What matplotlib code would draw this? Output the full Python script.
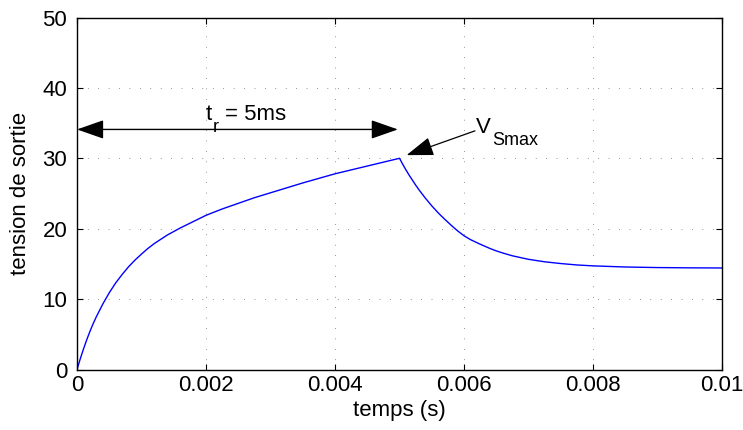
import matplotlib
matplotlib.use("Agg")
import matplotlib.pyplot as plt

# courbe (temps en ms, tension en V)
t_ms = [0, 0.05, 0.1, 0.15, 0.2, 0.25, 0.3, 0.35, 0.4, 0.45, 0.5, 0.6, 0.7,
        0.8, 0.9, 1.0, 1.1, 1.2, 1.3, 1.4, 1.5, 1.6, 1.8, 2.0, 2.25, 2.5,
        2.75, 3.0, 3.5, 4.0, 4.5, 5.0,
        5.05, 5.1, 5.15, 5.2, 5.25, 5.3, 5.35, 5.4, 5.45, 5.5, 5.55, 5.6,
        5.7, 5.8, 5.9, 6.0, 6.1, 6.25, 6.4, 6.5, 6.6, 6.75, 6.9, 7.0, 7.25,
        7.5, 7.75, 8.0, 8.5, 9.0, 9.5, 10.0]
v_sortie = [0, 1.5, 2.9, 4.2, 5.4, 6.5, 7.5, 8.4, 9.3, 10.1, 10.9, 12.3, 13.5,
            14.6, 15.55, 16.4, 17.2, 17.9, 18.5, 19.1, 19.6, 20.1, 21.0, 21.9,
            22.8, 23.6, 24.4, 25.1, 26.5, 27.8, 28.9, 30.0,
            29.15, 28.35, 27.6, 26.9, 26.2, 25.55, 24.95, 24.35, 23.8, 23.25,
            22.75, 22.25, 21.35, 20.5, 19.7, 19.0, 18.45, 17.8, 17.2, 16.85,
            16.55, 16.15, 15.85, 15.65, 15.3, 15.05, 14.85, 14.72, 14.56,
            14.48, 14.44, 14.42]

x_ticks = [0, 0.002, 0.004, 0.006, 0.008, 0.01]
x_labels = ["0", "0.002", "0.004", "0.006", "0.008", "0.01"]
y_ticks = [0, 10, 20, 30, 40, 50]

t_r = 0.005
v_fleche = 34.1

plt.rcParams['font.family'] = ['Liberation Sans', 'DejaVu Sans']

fs = 16
fs_sub = 13
fig = plt.figure(figsize=(7.43, 4.30), dpi=100)
ax = fig.add_axes([77/743, 1 - 369.5/430, 645/743, 352/430])

t_s = [t/1000 for t in t_ms]
ax.plot(t_s, v_sortie, color=(0, 0, 1), lw=1.0)

ax.set_xlim(0, 0.01)
ax.set_ylim(0, 50)
ax.set_xticks(x_ticks)
ax.set_xticklabels(x_labels)
ax.set_yticks(y_ticks)
ax.tick_params(direction='in', length=4, width=0.8, top=True, right=True,
               labelsize=fs, pad=4)
ax.tick_params(axis='y', pad=7)
for s in ax.spines.values():
    s.set_linewidth(1.0)
ax.grid(True, color='0.2', lw=0.5, linestyle=(0, (1, 14)))

ax.set_xlabel("temps (s)", fontsize=fs)
ax.xaxis.set_label_coords(0.5, -0.087)
ax.set_ylabel("tension de sortie", fontsize=fs)
ax.yaxis.set_label_coords(-0.072, 0.5)

# fleche t_r
ax.annotate("", xy=(0, v_fleche), xytext=(t_r * 0.995, v_fleche),
            arrowprops=dict(arrowstyle='<|-|>,head_length=1.2,head_width=0.42',
                            color='black', lw=1.0, mutation_scale=14,
                            shrinkA=0, shrinkB=0))
ax.text(0.0020, 35.45, "t", fontsize=fs, ha='left', va='baseline')
ax.text(0.002105, 33.8, "r", fontsize=fs_sub, ha='left', va='baseline')
ax.text(0.00229, 35.45, "= 5ms", fontsize=fs, ha='left', va='baseline')

# V_Smax
ax.annotate("", xy=(0.00511, 30.45), xytext=(0.00617, 33.9),
            arrowprops=dict(arrowstyle='-|>,head_length=1.2,head_width=0.42',
                            color='black', lw=0.9, mutation_scale=14,
                            shrinkA=0, shrinkB=0))
ax.text(0.00619, 33.55, "V", fontsize=fs, ha='left', va='baseline')
ax.text(0.00643, 31.9, "Smax", fontsize=fs_sub, ha='left', va='baseline')

fig.savefig("out.png", dpi=100)
